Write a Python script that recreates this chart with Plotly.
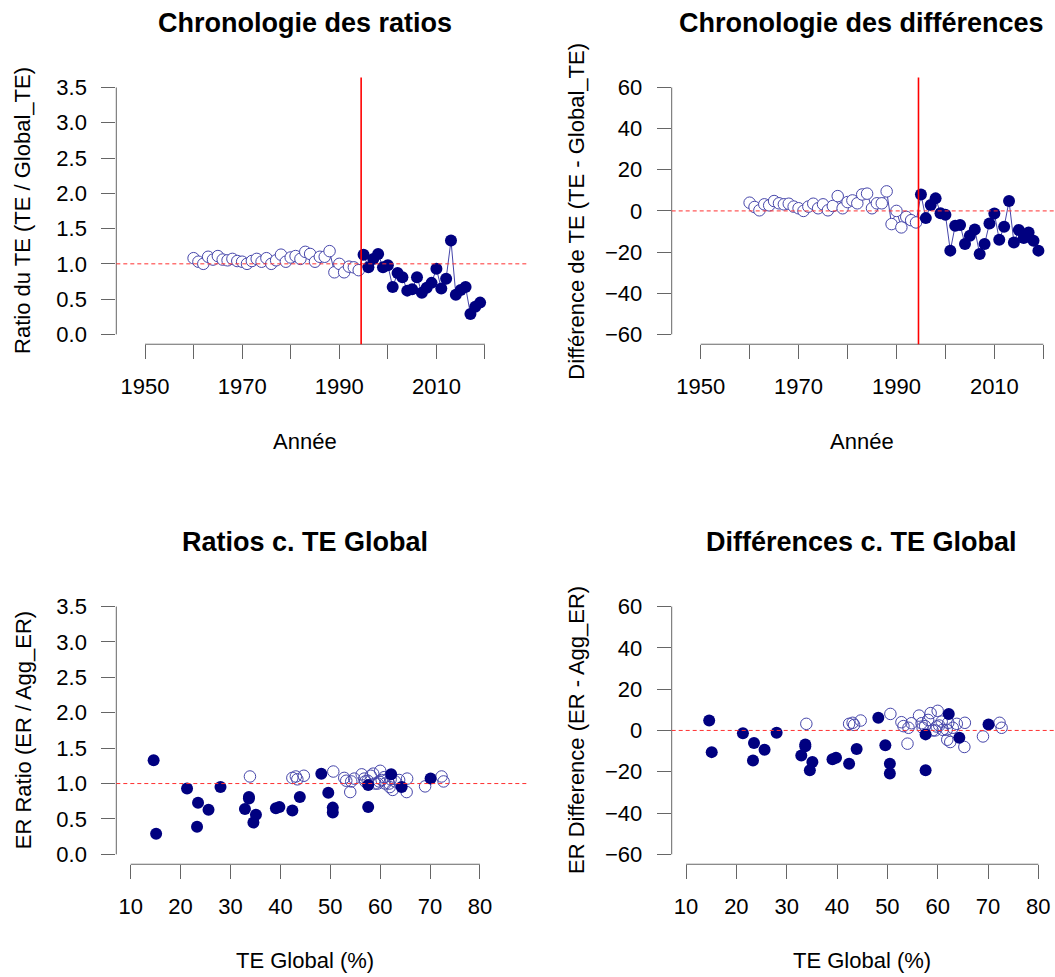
import plotly.graph_objects as go

# Années (1960-2019)
years = [1960, 1961, 1962, 1963, 1964, 1965, 1966, 1967, 1968, 1969,
         1970, 1971, 1972, 1973, 1974, 1975, 1976, 1977, 1978, 1979,
         1980, 1981, 1982, 1983, 1984, 1985, 1986, 1987, 1988, 1989,
         1990, 1991, 1992, 1993, 1994, 1995, 1996, 1997, 1998, 1999,
         2000, 2001, 2002, 2003, 2004, 2005, 2006, 2007, 2008, 2009,
         2010, 2011, 2012, 2013, 2014, 2015, 2016, 2017, 2018, 2019]

# Ratio TE / Global_TE
ratio = [1.08, 1.03, 1.00, 1.10, 1.06, 1.11, 1.06, 1.05, 1.07, 1.04,
         1.03, 1.00, 1.04, 1.07, 1.03, 1.08, 1.00, 1.05, 1.13, 1.03,
         1.09, 1.11, 1.07, 1.17, 1.14, 1.03, 1.10, 1.10, 1.18, 0.88,
         1.00, 0.88, 0.96, 0.95, 0.91, 1.13, 0.95, 1.07, 1.14, 0.95,
         0.98, 0.67, 0.87, 0.81, 0.62, 0.64, 0.81, 0.59, 0.66, 0.73,
         0.93, 0.65, 0.79, 1.33, 0.56, 0.63, 0.67, 0.29, 0.39, 0.45]

# Différence TE - Global_TE
difference = [4.0, 1.9, 0.3, 3.2, 2.7, 4.8, 3.7, 3.2, 3.5, 2.1,
              1.3, 0.0, 2.1, 3.5, 1.3, 3.2, 0.3, 2.4, 7.2, 1.3,
              4.3, 5.1, 3.7, 8.0, 8.4, 1.3, 3.7, 3.7, 9.5, -6.4,
              0.0, -8.0, -2.9, -4.5, -5.6, 8.0, -3.5, 2.9, 6.1, -1.1,
              -1.9, -19.3, -7.2, -6.8, -16.1, -12.1, -9.0, -20.9, -16.1, -6.1,
              -1.3, -14.0, -7.7, 4.8, -15.3, -9.3, -13.2, -10.5, -14.5, -19.3]

# TE Global (%)
te_global = [52.8, 59.8, 61.8, 33.9, 43.4, 44.7, 62.1, 63.8, 56.8, 53.2,
             72.7, 59.5, 57.5, 54.8, 54.2, 42.4, 61.0, 60.3, 56.3, 63.0,
             60.8, 58.1, 65.4, 50.6, 58.6, 57.0, 43.1, 72.3, 60.0, 54.0,
             59.0, 65.3, 69.0, 61.9, 62.5, 62.2, 64.3, 70.1, 48.2, 28.0,
             57.6, 57.6, 49.6, 33.7, 42.4, 32.9, 43.9, 50.5, 50.5, 23.5,
             21.3, 39.1, 33.7, 14.6, 35.1, 25.6, 39.8, 15.1, 23.3, 34.6]

cutoff = 1994.5

W, H = 1055, 977
FONT = "Liberation Sans, Arial, sans-serif"
NAVY = "#000080"
EDGE = "#4646aa"
AXC = "#666666"


def px(x):
    return x / W


def py(y):
    return 1 - y / H


old = [i for i, y in enumerate(years) if y < cutoff]
new = [i for i, y in enumerate(years) if y > cutoff]

fig = go.Figure()

panels = [
    # (axis suffix, x values, y values, with line)
    ("", years, ratio, True),
    ("2", years, difference, True),
    ("3", te_global, ratio, False),
    ("4", te_global, difference, False),
]

for suf, xs, ys, with_line in panels:
    xa, ya = "x" + suf, "y" + suf
    if with_line:
        fig.add_trace(go.Scatter(x=xs, y=ys, mode="lines", xaxis=xa, yaxis=ya,
                                 line=dict(color=EDGE, width=1), hoverinfo="skip"))
        open_sym, open_fill = "circle", "white"
    else:
        open_sym, open_fill = "circle-open", EDGE
    fig.add_trace(go.Scatter(x=[xs[i] for i in old], y=[ys[i] for i in old], mode="markers",
                             xaxis=xa, yaxis=ya,
                             marker=dict(symbol=open_sym, size=11.5, color=open_fill,
                                         line=dict(color=EDGE, width=1))))
    fig.add_trace(go.Scatter(x=[xs[i] for i in new], y=[ys[i] for i in new], mode="markers",
                             xaxis=xa, yaxis=ya,
                             marker=dict(symbol="circle", size=12, color=NAVY,
                                         line=dict(width=0))))

ax = dict(showgrid=False, zeroline=False, showline=False, ticks="outside", ticklen=14,
          tickwidth=1, tickcolor=AXC, fixedrange=True,
          tickfont=dict(family=FONT, size=22, color="black"))

top = [py(344), py(76)]
bot = [py(866.7), py(597.7)]
left = [px(116.3), px(527)]
right = [px(671.7), 1.0]

year_ticks = [1950, 1960, 1970, 1980, 1990, 2000, 2010, 2020]
year_text = ["1950", "", "1970", "", "1990", "", "2010", ""]
te_ticks = [10, 20, 30, 40, 50, 60, 70, 80]
ratio_ticks = [0, 0.5, 1, 1.5, 2, 2.5, 3, 3.5]
diff_ticks = [-60, -40, -20, 0, 20, 40, 60]

fig.update_layout(
    width=W, height=H, margin=dict(l=0, r=0, t=0, b=0),
    paper_bgcolor="white", plot_bgcolor="white", showlegend=False,
    xaxis=dict(ax, domain=left, range=[1944.09, 2028.65], tickvals=year_ticks,
               ticktext=year_text, anchor="y", ticklabelstandoff=8),
    yaxis=dict(ax, domain=top, range=[-0.14, 3.64], tickvals=ratio_ticks,
               tickformat=".1f", anchor="x", ticklabelstandoff=10),
    xaxis2=dict(ax, domain=right, range=[1944.08, 2022.39], tickvals=year_ticks,
                ticktext=year_text, anchor="y2", ticklabelstandoff=8),
    yaxis2=dict(ax, domain=top, range=[-64.8, 64.8], tickvals=diff_ticks,
                anchor="x2", ticklabelstandoff=10),
    xaxis3=dict(ax, domain=left, range=[7.12, 89.42], tickvals=te_ticks,
                anchor="y3", ticklabelstandoff=8),
    yaxis3=dict(ax, domain=bot, range=[-0.14, 3.64], tickvals=ratio_ticks,
                tickformat=".1f", anchor="x3", ticklabelstandoff=10),
    xaxis4=dict(ax, domain=right, range=[7.15, 83.31], tickvals=te_ticks,
                anchor="y4", ticklabelstandoff=8),
    yaxis4=dict(ax, domain=bot, range=[-64.8, 64.8], tickvals=diff_ticks,
                anchor="x4", ticklabelstandoff=10),
)

shapes = []
# axis lines between extreme ticks (R style)
axis_spans = [("", 1950, 2020, 0, 3.5, 1), ("2", 1950, 2020, -60, 60, 0),
              ("3", 10, 80, 0, 3.5, 1), ("4", 10, 80, -60, 60, 0)]
for suf, x0, x1, y0, y1, ref in axis_spans:
    xa, ya = "x" + suf, "y" + suf
    shapes.append(dict(type="line", xref=xa, yref=ya + " domain", x0=x0, x1=x1, y0=0, y1=0,
                       line=dict(color=AXC, width=1)))
    shapes.append(dict(type="line", xref=xa + " domain", yref=ya, x0=0, x1=0, y0=y0, y1=y1,
                       line=dict(color=AXC, width=1)))
    shapes.append(dict(type="line", xref=xa + " domain", yref=ya, x0=0, x1=1, y0=ref, y1=ref,
                       line=dict(color="#ff3030", width=1, dash="4px,3px")))
for suf in ["", "2"]:
    shapes.append(dict(type="line", xref="x" + suf, yref="y" + suf + " domain",
                       x0=cutoff, x1=cutoff, y0=0, y1=1,
                       line=dict(color="#ff0000", width=1.6)))
fig.update_layout(shapes=shapes)

ann = []
titles = [("Chronologie des ratios", 305, 21), ("Chronologie des différences", 861, 21),
          ("Ratios c. TE Global", 305, 543), ("Différences c. TE Global", 861, 543)]
for t, x, y in titles:
    ann.append(dict(text="<b>" + t + "</b>", x=px(x), y=py(y), xref="paper", yref="paper",
                    xanchor="center", yanchor="middle", showarrow=False,
                    font=dict(family=FONT, size=27, color="black")))
xtitles = [("Année", 304.5, 441.7), ("Année", 861.7, 441.7),
           ("TE Global (%)", 304.5, 963.3), ("TE Global (%)", 861.7, 963.3)]
for t, x, y in xtitles:
    ann.append(dict(text=t, x=px(x), y=py(y), xref="paper", yref="paper",
                    xanchor="center", yanchor="middle", showarrow=False,
                    font=dict(family=FONT, size=22, color="black")))
ytitles = [("Ratio du TE (TE / Global_TE)", 23, 210), ("Différence de TE (TE - Global_TE)", 576.7, 210),
           ("ER Ratio (ER / Agg_ER)", 23, 732), ("ER Difference (ER - Agg_ER)", 576.7, 732)]
for t, x, y in ytitles:
    ann.append(dict(text=t, x=px(x), y=py(y), xref="paper", yref="paper", textangle=-90,
                    xanchor="center", yanchor="middle", showarrow=False,
                    font=dict(family=FONT, size=22, color="black")))
fig.update_layout(annotations=ann)

# drop the default page margin so the figure fills the window exactly
fig.write_html("out.html", config={"displayModeBar": False},
               post_script="document.body.style.margin='0';document.body.style.overflow='hidden';")
